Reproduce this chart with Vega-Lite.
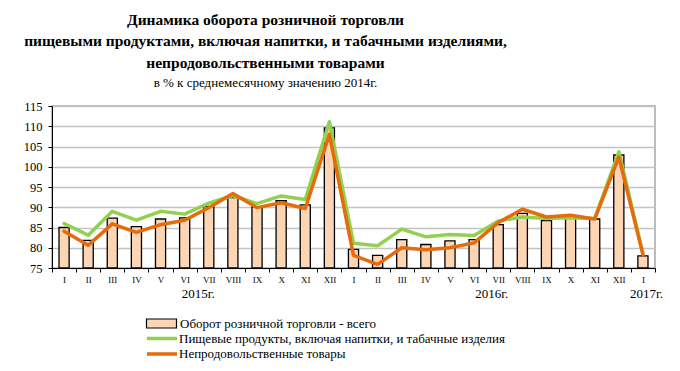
{
  "$schema": "https://vega.github.io/schema/vega-lite/v6.json",
  "width": 603,
  "height": 162,
  "autosize": {"type": "none"},
  "padding": {"left": 52, "top": 106, "right": 25, "bottom": 103},
  "background": "white",
  "title": {
    "text": ["Динамика оборота розничной торговли", "пищевыми продуктами, включая напитки, и табачными изделиями,", "непродовольственными товарами"],
    "subtitle": "в % к среднемесячному значению 2014г.",
    "font": "Liberation Serif",
    "fontSize": 15.5,
    "fontWeight": "bold",
    "lineHeight": 21.5,
    "color": "black",
    "subtitleFont": "Liberation Serif",
    "subtitleFontSize": 13,
    "subtitleColor": "black",
    "subtitlePadding": 6,
    "anchor": "middle",
    "frame": "group",
    "dx": -88,
    "offset": 10
  },
  "data": {
    "values": [
      {"p": "2015 I", "total": 85.0, "food": 86.0, "nonfood": 84.1},
      {"p": "2015 II", "total": 81.8, "food": 83.1, "nonfood": 80.6},
      {"p": "2015 III", "total": 87.3, "food": 89.0, "nonfood": 85.9},
      {"p": "2015 IV", "total": 85.2, "food": 86.8, "nonfood": 83.8},
      {"p": "2015 V", "total": 87.1, "food": 89.0, "nonfood": 85.7},
      {"p": "2015 VI", "total": 87.4, "food": 88.3, "nonfood": 86.8},
      {"p": "2015 VII", "total": 90.2, "food": 91.0, "nonfood": 89.9},
      {"p": "2015 VIII", "total": 92.4, "food": 92.9, "nonfood": 93.4},
      {"p": "2015 IX", "total": 90.1, "food": 90.9, "nonfood": 89.9},
      {"p": "2015 X", "total": 91.6, "food": 92.8, "nonfood": 91.1},
      {"p": "2015 XI", "total": 90.6, "food": 91.9, "nonfood": 89.7},
      {"p": "2015 XII", "total": 109.6, "food": 111.1, "nonfood": 108.0},
      {"p": "2016 I", "total": 79.6, "food": 81.1, "nonfood": 78.1},
      {"p": "2016 II", "total": 78.1, "food": 80.5, "nonfood": 75.9},
      {"p": "2016 III", "total": 82.0, "food": 84.6, "nonfood": 80.0},
      {"p": "2016 IV", "total": 80.8, "food": 82.7, "nonfood": 79.5},
      {"p": "2016 V", "total": 81.7, "food": 83.3, "nonfood": 80.0},
      {"p": "2016 VI", "total": 82.0, "food": 83.0, "nonfood": 81.2},
      {"p": "2016 VII", "total": 85.7, "food": 86.6, "nonfood": 86.2},
      {"p": "2016 VIII", "total": 88.5, "food": 87.6, "nonfood": 89.5},
      {"p": "2016 IX", "total": 86.7, "food": 87.2, "nonfood": 87.6},
      {"p": "2016 X", "total": 87.4, "food": 87.4, "nonfood": 88.0},
      {"p": "2016 XI", "total": 87.1, "food": 87.2, "nonfood": 87.1},
      {"p": "2016 XII", "total": 102.9, "food": 103.7, "nonfood": 102.4},
      {"p": "2017 I", "total": 78.0, "food": 78.6, "nonfood": 78.3}
    ]
  },
  "layer": [
    {
      "layer": [
        {
          "mark": {"type": "bar", "width": {"band": 0.42}, "stroke": "black", "strokeWidth": 1.3},
          "encoding": {
            "x": {
              "field": "p", "type": "nominal", "sort": null,
              "scale": {"paddingInner": 0, "paddingOuter": 0},
              "axis": {
                "title": null,
                "labelExpr": "split(datum.value, ' ')[1]",
                "labelAngle": 0,
                "tickBand": "extent",
                "labelFont": "Liberation Serif",
                "labelFontSize": 9,
                "labelPadding": 3,
                "labelColor": "black",
                "tickSize": 4,
                "tickColor": "black",
                "domainColor": "black",
                "grid": false
              }
            },
            "y": {
              "field": "total", "type": "quantitative",
              "scale": {"domain": [75, 115], "zero": false, "nice": false},
              "axis": {
                "title": null,
                "values": [75, 80, 85, 90, 95, 100, 105, 110, 115],
                "labelOverlap": false,
                "grid": true,
                "gridColor": "#c4c4c4",
                "gridWidth": 1.5,
                "labelFont": "Liberation Serif",
                "labelFontSize": 12.5,
                "labelColor": "black",
                "labelPadding": 6,
                "tickSize": 4,
                "tickColor": "black",
                "domainColor": "black"
              }
            },
            "y2": {"datum": 75},
            "fill": {
              "datum": "Оборот розничной торговли - всего",
              "scale": {"range": ["#FCD5B5"]},
              "legend": {
                "orient": "none", "legendX": 103, "legendY": 211, "title": null,
                "symbolType": "M-3,-0.9H3V0.9H-3Z", "symbolSize": 100,
                "symbolStrokeColor": "black", "symbolStrokeWidth": 1.2,
                "labelFont": "Liberation Serif", "labelFontSize": 13, "labelColor": "black",
                "labelOffset": 12, "labelLimit": 0, "padding": 0
              }
            }
          }
        },
        {
          "transform": [{"fold": ["food", "nonfood"], "as": ["series", "value"]}],
          "mark": {"type": "line", "strokeWidth": 3.5, "strokeJoin": "round", "strokeCap": "round"},
          "encoding": {
            "x": {"field": "p", "type": "nominal", "sort": null},
            "y": {
              "field": "value", "type": "quantitative",
              "axis": {
                "title": null,
                "values": [75, 80, 85, 90, 95, 100, 105, 110, 115],
                "labelOverlap": false,
                "grid": true,
                "gridColor": "#c4c4c4",
                "gridWidth": 1.5,
                "labelFont": "Liberation Serif",
                "labelFontSize": 12.5,
                "labelColor": "black",
                "labelPadding": 6,
                "tickSize": 4,
                "tickColor": "black",
                "domainColor": "black"
              }
            },
            "stroke": {
              "field": "series", "type": "nominal",
              "scale": {"domain": ["food", "nonfood"], "range": ["#92D050", "#E46C0A"]},
              "legend": {
                "orient": "none", "legendX": 103, "legendY": 225.5, "title": null,
                "symbolType": "M-3,0H3", "symbolSize": 100, "symbolStrokeWidth": 3.5,
                "labelFont": "Liberation Serif", "labelFontSize": 13, "labelColor": "black",
                "labelOffset": 10, "labelLimit": 0, "rowPadding": 1.5, "padding": 0,
                "labelExpr": "datum.value == 'food' ? 'Пищевые продукты, включая напитки,  и табачные изделия' : 'Непродовольственные товары'"
              }
            }
          }
        }
      ]
    },
    {
      "mark": {"type": "text", "text": ""},
      "encoding": {
        "x": {
          "field": "p", "type": "nominal", "sort": null,
          "scale": {"paddingInner": 0, "paddingOuter": 0},
          "axis": {
            "orient": "bottom",
            "title": null,
            "labelExpr": "datum.value == '2015 VII' ? '2015г.' : datum.value == '2016 VII' ? '2016г.' : datum.value == '2017 I' ? '2017г.' : ''",
            "labelAngle": 0,
            "labelFont": "Liberation Serif",
            "labelFontSize": 13,
            "labelColor": "black",
            "labelPadding": 19,
            "labelOffset": {"condition": [{"test": "datum.value == '2015 VII'", "value": -11}, {"test": "datum.value == '2016 VII'", "value": -7}], "value": 3},
            "domain": false,
            "ticks": false,
            "grid": false
          }
        }
      }
    }
  ],
  "resolve": {"scale": {"x": "independent"}},
  "config": {
    "view": {"stroke": "#a6a6a6", "strokeWidth": 1.5},
    "axisY": {"labelOverlap": false},
    "axisQuantitative": {"labelOverlap": false},
    "font": "Liberation Serif"
  }
}
